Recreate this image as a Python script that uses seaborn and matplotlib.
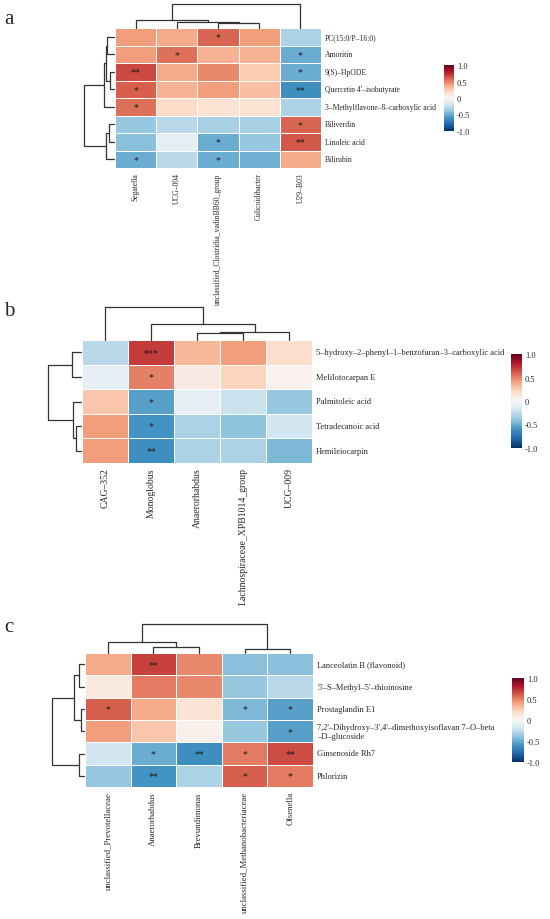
import matplotlib
matplotlib.use("Agg")
import matplotlib.pyplot as plt
import seaborn as sns
import pandas as pd
import numpy as np

# ---- panel a ----
a_rows = ["PC(15:0/P–16:0)", "Amoritin", "9(S)–HpODE", "Quercetin 4'–isobutyrate",
          "3–Methylflavone–8–carboxylic acid", "Biliverdin", "Linoleic acid", "Bilirubin"]
a_cols = ["Segatella", "UCG–004", "unclassified_Clostridia_vadinBB60_group",
          "Culicoidibacter", "U29–B03"]
a_vals = [[0.42, 0.38, 0.58, 0.42, -0.32],
          [0.42, 0.55, 0.35, 0.35, -0.50],
          [0.66, 0.38, 0.48, 0.25, -0.50],
          [0.60, 0.35, 0.42, 0.30, -0.62],
          [0.55, 0.20, 0.15, 0.15, -0.32],
          [-0.38, -0.28, -0.33, -0.33, 0.58],
          [-0.42, -0.10, -0.50, -0.38, 0.62],
          [-0.50, -0.28, -0.50, -0.48, 0.38]]
a_stars = [["", "", "*", "", ""],
           ["", "*", "", "", "*"],
           ["**", "", "", "", "*"],
           ["*", "", "", "", "**"],
           ["*", "", "", "", ""],
           ["", "", "", "", "*"],
           ["", "", "*", "", "**"],
           ["*", "", "*", "", ""]]
a_col_tree = [[0, [1, [2, 3, 14], 19], 24], 4, 72]
a_row_tree = [[[[0, 1, 20], [2, 3, 12], 25], 4, 30], [[5, 6, 15], 7, 25], 90]

# ---- panel b ----
b_rows = ["5–hydroxy–2–phenyl–1–benzofuran–3–carboxylic acid", "Melilotocarpan E",
          "Palmitoleic acid", "Tetradecanoic acid", "Hemileiocarpin"]
b_cols = ["CAG–352", "Monoglobus", "Anaerorhabdus", "Lachnospiraceae_XPB1014_group", "UCG–009"]
b_vals = [[-0.28, 0.70, 0.33, 0.42, 0.18],
          [-0.10, 0.50, 0.08, 0.22, 0.04],
          [0.28, -0.55, -0.08, -0.22, -0.38],
          [0.42, -0.60, -0.32, -0.40, -0.18],
          [0.42, -0.62, -0.32, -0.32, -0.45]]
b_stars = [["", "***", "", "", ""],
           ["", "*", "", "", ""],
           ["", "*", "", "", ""],
           ["", "*", "", "", ""],
           ["", "**", "", "", ""]]
b_col_tree = [0, [1, [[2, 3, 20], 4, 25], 50], 100]
b_row_tree = [[0, 1, 26], [2, [3, 4, 15], 23], 94]

# ---- panel c ----
c_rows = ["Lanceolatin B (flavonoid)", "5'–S–Methyl–5'–thioinosine", "Prostaglandin E1",
          "7,2'–Dihydroxy–3',4'–dimethoxyisoflavan 7–O–beta\n–D–glucoside",
          "Ginsenoside Rh7", "Phlorizin"]
c_cols = ["unclassified_Prevotellaceae", "Anaerorhabdus", "Brevundimonas",
          "unclassified_Methanobacteriaceae", "Olsenella"]
c_vals = [[0.38, 0.68, 0.48, -0.42, -0.42],
          [0.10, 0.52, 0.48, -0.38, -0.28],
          [0.60, 0.38, 0.14, -0.45, -0.55],
          [0.42, 0.28, 0.05, -0.38, -0.55],
          [-0.18, -0.50, -0.62, 0.52, 0.65],
          [-0.38, -0.60, -0.32, 0.60, 0.52]]
c_stars = [["", "**", "", "", ""],
           ["", "", "", "", ""],
           ["*", "", "", "*", "*"],
           ["", "", "", "", "*"],
           ["", "*", "**", "*", "**"],
           ["", "**", "", "*", "*"]]
c_col_tree = [[0, [1, 2, 19], 34], [3, 4, 13], 90]
c_row_tree = [[[0, 1, 15], [2, 3, 8], 30], [4, 5, 15], 94]

sns.set_style("white")
plt.rcParams["font.family"] = ["Liberation Serif", "DejaVu Serif"]

W, H = 550, 920
fig = plt.figure(figsize=(W / 100, H / 100), dpi=100)


def px_axes(x0, y0, x1, y1):
    return fig.add_axes([x0 / W, 1 - y1 / H, (x1 - x0) / W, (y1 - y0) / H])


def tree(ax, node, orient):
    if isinstance(node, int):
        return node + 0.5, 0.0
    l, r, h = node
    xl, hl = tree(ax, l, orient)
    xr, hr = tree(ax, r, orient)
    xs = [xl, xl, xr, xr]
    hs = [hl, h, h, hr]
    if orient == "top":
        ax.plot(xs, hs, color="#333333", lw=0.9, clip_on=False)
    else:
        ax.plot(hs, xs, color="#333333", lw=0.9, clip_on=False)
    return (xl + xr) / 2, h


def panel(letter, rows, cols, vals, stars, col_tree, row_tree, hm, top, left, cb,
          rfs, cfs, lx, ly):
    df = pd.DataFrame(vals, index=rows, columns=cols)
    st = pd.DataFrame(stars, index=rows, columns=cols)
    ax = px_axes(*hm)
    cax = px_axes(*cb)
    sns.heatmap(df, ax=ax, cmap="RdBu_r", vmin=-1, vmax=1, linewidths=0.6,
                linecolor="white", annot=st, fmt="",
                annot_kws={"fontsize": 7, "color": "#1a1a1a"},
                cbar_ax=cax, cbar_kws={"ticks": [-1, -0.5, 0, 0.5, 1]})
    ax.yaxis.tick_right()
    ax.set_yticklabels(rows, rotation=0, fontsize=rfs, ha="left", va="center")
    ax.set_xticklabels(cols, rotation=90, fontsize=cfs, va="top", ha="center")
    ax.tick_params(length=0, pad=3)
    ax.set_xlabel("")
    ax.set_ylabel("")
    cbar = ax.collections[0].colorbar
    cbar.outline.set_visible(False)
    cbar.set_ticklabels(["-1.0", "-0.5", "0", "0.5", "1.0"])
    cax.tick_params(length=0, labelsize=6, pad=2)

    tax = px_axes(*top)
    tree(tax, col_tree, "top")
    tax.set_xlim(0, len(cols))
    tax.set_ylim(0, col_tree[2])
    tax.axis("off")

    lax = px_axes(*left)
    tree(lax, row_tree, "left")
    lax.set_ylim(len(rows), 0)
    lax.set_xlim(row_tree[2], 0)
    lax.axis("off")

    fig.text(lx / W, 1 - ly / H, letter, fontsize=15, ha="left", va="center")


panel("a", a_rows, a_cols, a_vals, a_stars, a_col_tree, a_row_tree,
      (115, 29, 321, 169), (115, 5, 321, 29), (84, 29, 114, 169), (444, 66, 454, 132),
      5.5, 5.5, 4, 20)
panel("b", b_rows, b_cols, b_vals, b_stars, b_col_tree, b_row_tree,
      (82, 341, 312, 464), (82, 308, 312, 341), (48, 341, 81, 464), (511, 355, 522, 449),
      6, 7, 4, 312)
panel("c", c_rows, c_cols, c_vals, c_stars, c_col_tree, c_row_tree,
      (85, 654, 313, 788), (85, 625, 313, 654), (52, 654, 84, 788), (512, 679, 524, 763),
      6, 6.3, 4, 628)

fig.savefig("out.png", dpi=100)
